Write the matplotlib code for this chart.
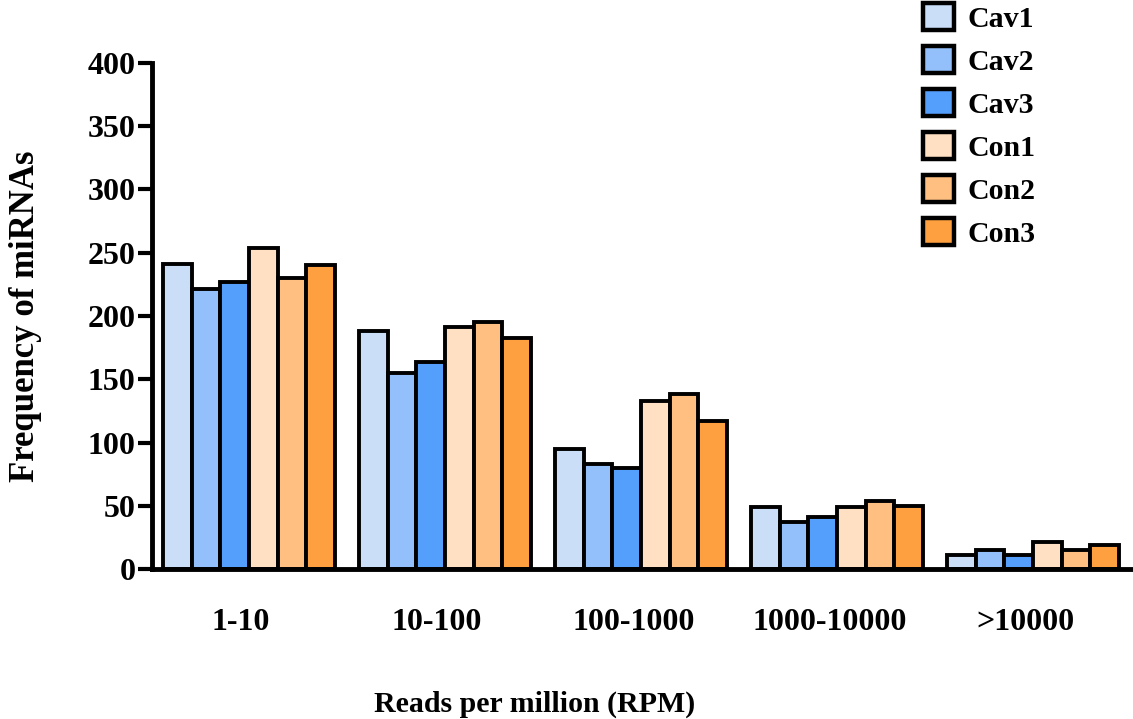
import matplotlib
matplotlib.use("Agg")
import matplotlib.pyplot as plt
import numpy as np
from matplotlib.patches import Patch

categories = ["1-10", "10-100", "100-1000", "1000-10000", ">10000"]
series_names = ["Cav1", "Cav2", "Cav3", "Con1", "Con2", "Con3"]
cav1 = [241, 188, 95, 49, 11]
cav2 = [221, 155, 83, 37, 15]
cav3 = [227, 164, 80, 41, 11]
con1 = [254, 191, 133, 49, 21]
con2 = [230, 195, 138, 54, 15]
con3 = [240, 183, 117, 50, 19]
series_values = [cav1, cav2, cav3, con1, con2, con3]
colors = ["#CADEF8", "#93BFFA", "#559FFC", "#FFE0C2", "#FFBF80", "#FFA040"]
yticks = [0, 50, 100, 150, 200, 250, 300, 350, 400]

plt.rcParams['font.family'] = ['Liberation Serif', 'DejaVu Serif']
plt.rcParams['font.weight'] = 'bold'

fig = plt.figure(figsize=(11.33, 7.19), dpi=100)
W, H = 1133, 719
ax = fig.add_axes([152 / W, (H - 569) / H, (1133 - 152) / W, (569 - 63) / H])

x = np.arange(len(categories))
w = 0.1463
for k, (name, vals, c) in enumerate(zip(series_names, series_values, colors)):
    ax.bar(x + (k - 2.5) * w, vals, width=w, color=c, edgecolor="black",
           linewidth=2.8, label=name, zorder=2)

ax.set_xlim(-0.495, 4.51)
ax.set_ylim(0, 400)
ax.set_yticks(yticks)
ax.set_xticks(x - 0.04)
ax.set_xticklabels(categories)

for s in ["top", "right"]:
    ax.spines[s].set_visible(False)
for s in ["left", "bottom"]:
    ax.spines[s].set_linewidth(3.5)
    ax.spines[s].set_zorder(3)

ax.tick_params(axis="y", direction="out", length=10, width=3, labelsize=23, pad=2)
ax.tick_params(axis="x", length=0, labelsize=23, pad=28)
for lab in ax.get_xticklabels() + ax.get_yticklabels():
    lab.set_fontweight("bold")

ax.set_ylabel("Frequency of miRNAs", fontsize=25, fontweight="bold", labelpad=33)
ax.set_xlabel("Reads per million (RPM)", fontsize=21.5, fontweight="bold")
ax.xaxis.set_label_coords((535 - 152) / (1133 - 152), -(704 - 569) / (569 - 63))
ax.xaxis.label.set_verticalalignment("center")

handles = [Patch(facecolor=c, edgecolor="black", linewidth=3.2) for c in colors]
leg = fig.legend(handles, series_names, loc="upper left",
                 bbox_to_anchor=(920 / W, 1 - 0 / H), frameon=False,
                 prop={"size": 21.5, "weight": "bold"},
                 handlelength=1.05, handleheight=1.0, labelspacing=0.45,
                 handletextpad=0.45, borderaxespad=0, borderpad=0.1)

fig.savefig("out.png", dpi=100)
